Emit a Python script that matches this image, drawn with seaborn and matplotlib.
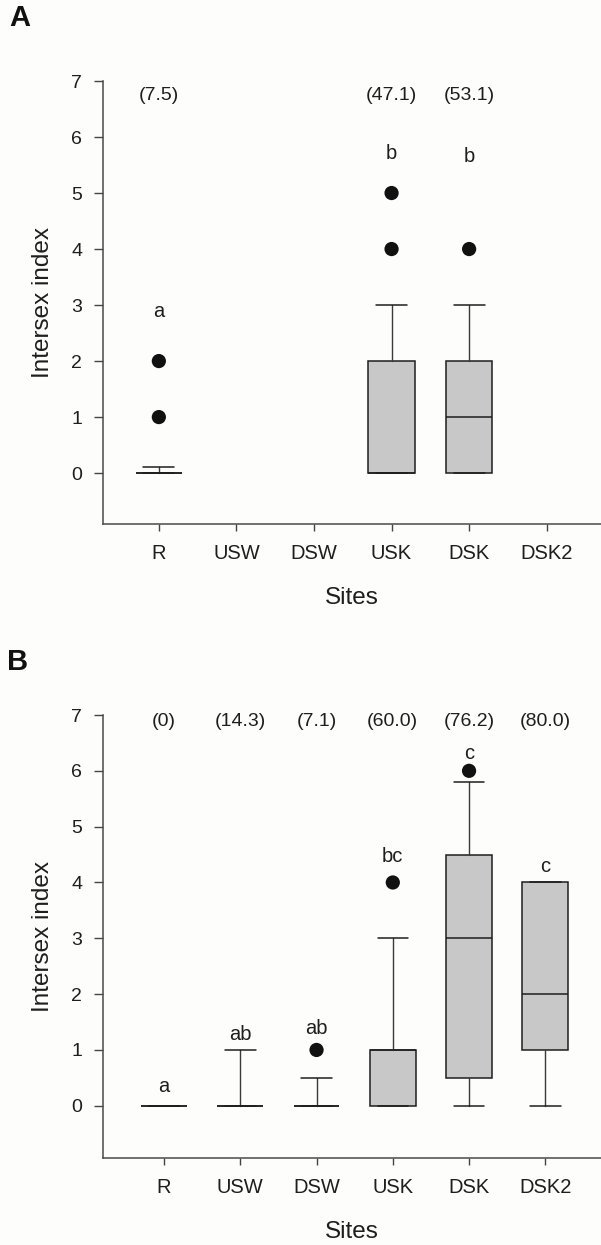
import matplotlib
matplotlib.use("Agg")
import matplotlib.pyplot as plt
import seaborn as sns

# ---- data -----------------------------------------------------------------
SITES = ["R", "USW", "DSW", "USK", "DSK", "DSK2"]

# Panel A (None = no fish sampled at that site)
A_Q1 = [0, None, None, 0, 0, None]
A_MED = [0, None, None, 0, 1, None]
A_Q3 = [0, None, None, 2, 2, None]
A_LO = [0, None, None, 0, 0, None]
A_HI = [0.1, None, None, 3, 3, None]
A_OUT = [[1, 2], [], [], [4, 5], [4], []]
A_PCT = ["(7.5)", "", "", "(47.1)", "(53.1)", ""]
A_GROUP = ["a", "", "", "b", "b", ""]

# Panel B
B_Q1 = [0, 0, 0, 0, 0.5, 1]
B_MED = [0, 0, 0, 1, 3, 2]
B_Q3 = [0, 0, 0, 1, 4.5, 4]
B_LO = [0, 0, 0, 0, 0, 0]
B_HI = [0, 1, 0.5, 3, 5.8, 4]
B_OUT = [[], [], [1], [4], [6], []]
B_PCT = ["(0)", "(14.3)", "(7.1)", "(60.0)", "(76.2)", "(80.0)"]
B_GROUP = ["a", "ab", "ab", "bc", "c", "c"]

# ---- layout -----------------------------------------------------------------
A_GROUP_Y = [2.88, None, None, 5.70, 5.65, None]
B_GROUP_Y = [0.34, 1.27, 1.39, 4.47, 6.31, 4.29]

BG = "#fdfdfb"
INK = "#1e1e1e"
BOX_FILL = "#c8c8c8"

sns.set_theme(style="ticks")
plt.rcParams["font.family"] = ["Liberation Sans", "DejaVu Sans"]
plt.rcParams["text.color"] = INK
plt.rcParams["axes.labelcolor"] = INK

W, H = 601, 1245
fig = plt.figure(figsize=(W / 100, H / 100), dpi=100, facecolor=BG)

# axes rectangles in pixel space: left, top, right, bottom
rect_a = (103, 81, 601, 523.5)
rect_b = (103, 715, 601, 1157.7)


def add_axes(r):
    l, t, rgt, b = r
    return fig.add_axes([l / W, 1 - b / H, (rgt - l) / W, (b - t) / H])


def draw_panel(ax, q1, med, q3, lo, hi, outs, pct, group, group_y,
               xlim, ylim, pct_y):
    ax.set_facecolor(BG)
    stats, pos = [], []
    for i in range(len(SITES)):
        if med[i] is None:
            continue
        stats.append(dict(med=med[i], q1=q1[i], q3=q3[i],
                          whislo=lo[i], whishi=hi[i], fliers=[]))
        pos.append(i)
    line = dict(color=INK, linewidth=1.1)
    ax.bxp(stats, positions=pos, widths=0.6, capwidths=0.4,
           patch_artist=True, showfliers=False, manage_ticks=False,
           boxprops=dict(facecolor=BOX_FILL, edgecolor=INK, linewidth=1.1),
           whiskerprops=dict(color="#3a3a3a", linewidth=1.0),
           capprops=line, medianprops=line)

    # outliers
    fx, fy = [], []
    for i, vals in enumerate(outs):
        for v in vals:
            fx.append(i)
            fy.append(v)
    if fx:
        sns.scatterplot(x=fx, y=fy, ax=ax, color="#111111", s=105,
                        edgecolor="none", legend=False, zorder=5)

    # percentage affected and significance groups
    for i in range(len(SITES)):
        if pct[i]:
            ax.text(i, pct_y, pct[i], ha="center", va="center", fontsize=14)
        if group[i]:
            ax.text(i, group_y[i], group[i], ha="center", va="center",
                    fontsize=14.5)

    ax.set_xlim(*xlim)
    ax.set_ylim(*ylim)
    ax.set_xticks(range(len(SITES)))
    ax.set_xticklabels(SITES)
    ax.set_yticks(range(0, 8))
    ax.tick_params(axis="y", length=6.5, width=1.0, pad=8.5, labelsize=14,
                   color="#444444", labelcolor=INK)
    ax.tick_params(axis="x", length=5.3, width=1.0, pad=9.5, labelsize=14.5,
                   color="#444444", labelcolor=INK)
    sns.despine(ax=ax)
    for s in ("left", "bottom"):
        ax.spines[s].set_color("#4a4a4a")
        ax.spines[s].set_linewidth(1.1)
    ax.spines["left"].set_bounds(ylim[0], 7)
    ax.set_xlabel("Sites", fontsize=17.5, labelpad=17)
    ax.set_ylabel("Intersex index", fontsize=17.5, labelpad=12)


ax_a = add_axes(rect_a)
draw_panel(ax_a, A_Q1, A_MED, A_Q3, A_LO, A_HI, A_OUT, A_PCT, A_GROUP,
           A_GROUP_Y, xlim=(-0.72, 5.70), ylim=(-0.9, 7), pct_y=6.75)

ax_b = add_axes(rect_b)
draw_panel(ax_b, B_Q1, B_MED, B_Q3, B_LO, B_HI, B_OUT, B_PCT, B_GROUP,
           B_GROUP_Y, xlim=(-0.80, 5.73), ylim=(-0.93, 7), pct_y=6.88)

fig.text(9 / W, 1 - 4.5 / H, "A", fontsize=21, fontweight="bold",
         ha="left", va="top", color="#111111")
fig.text(7 / W, 1 - 648 / H, "B", fontsize=21, fontweight="bold",
         ha="left", va="top", color="#111111")

fig.savefig("out.png", dpi=100, facecolor=BG)
